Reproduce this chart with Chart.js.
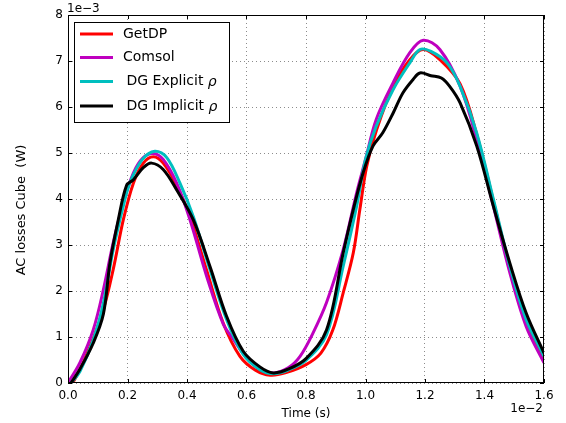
<!DOCTYPE html>
<html><head><meta charset="utf-8">
<script src="https://cdn.jsdelivr.net/npm/chart.js@4/dist/chart.umd.min.js"></script>
<style>html,body{margin:0;padding:0;background:#fff}#wrap{width:566px;height:423px}</style>
</head><body><div id="wrap"><canvas id="c" width="566" height="423"></canvas></div>
<script>
// Time in units of 1e-2 s, losses in units of 1e-3 W
const seriesNames = ['GetDP', 'Comsol', 'DG Explicit', 'DG Implicit'];
const getdpT = [0.0,0.02,0.074,0.119,0.152,0.186,0.22,0.253,0.287,0.32,0.365,0.41,0.466,0.522,0.578,0.63,0.68,0.73,0.8,0.85,0.89,0.925,0.959,0.981,1.004,1.037,1.093,1.149,1.194,1.25,1.318,1.374,1.43,1.485,1.54,1.6];
const getdpV = [0,0.05,0.8,1.6,2.47,3.55,4.35,4.78,4.92,4.78,4.3,3.62,2.45,1.3,0.58,0.28,0.17,0.22,0.40,0.65,1.15,1.96,2.83,3.77,4.71,5.5,6.45,7.03,7.25,7.03,6.5,5.4,3.95,2.5,1.3,0.5];
const comsolT = [0.0,0.04,0.085,0.119,0.152,0.186,0.22,0.253,0.287,0.32,0.365,0.41,0.466,0.522,0.555,0.6,0.645,0.69,0.74,0.78,0.823,0.869,0.925,0.97,1.0,1.036,1.093,1.149,1.194,1.25,1.318,1.374,1.43,1.485,1.54,1.6];
const comsolV = [0,0.44,1.16,2.03,3.05,3.92,4.57,4.9,4.99,4.86,4.35,3.55,2.32,1.28,0.96,0.55,0.3,0.22,0.33,0.58,1.08,1.75,2.9,4.13,4.86,5.73,6.53,7.18,7.45,7.25,6.45,5.29,3.84,2.4,1.23,0.44];
const explicitT = [0.01,0.04,0.085,0.119,0.152,0.186,0.208,0.25,0.292,0.332,0.376,0.421,0.477,0.533,0.589,0.645,0.69,0.74,0.8,0.869,0.925,0.97,1.0,1.036,1.093,1.149,1.183,1.22,1.274,1.318,1.374,1.43,1.485,1.54,1.6];
const explicitV = [0,0.25,0.94,1.74,2.9,3.85,4.35,4.86,5.04,4.9,4.35,3.62,2.47,1.38,0.62,0.29,0.2,0.28,0.49,1.05,2.54,3.84,4.86,5.58,6.38,6.96,7.25,7.21,6.96,6.45,5.43,3.99,2.54,1.38,0.58];
const implicitT = [0.01,0.04,0.085,0.119,0.141,0.169,0.197,0.22,0.253,0.281,0.32,0.365,0.421,0.477,0.533,0.589,0.645,0.69,0.74,0.8,0.869,0.925,0.959,0.992,1.025,1.058,1.093,1.126,1.16,1.183,1.22,1.255,1.283,1.318,1.374,1.43,1.485,1.54,1.6];
const implicitV = [0,0.3,0.87,1.5,2.61,3.55,4.3,4.42,4.68,4.78,4.64,4.2,3.55,2.54,1.45,0.69,0.35,0.22,0.3,0.53,1.15,2.83,3.77,4.57,5.15,5.44,5.87,6.31,6.6,6.74,6.68,6.63,6.45,6.09,5.15,3.84,2.61,1.52,0.65];
const xTickValues = [0,0.2,0.4,0.6,0.8,1.0,1.2,1.4,1.6];
const yTickValues = [0,1,2,3,4,5,6,7,8];
const xTitle = 'Time (s)';
const yTitle = 'AC losses Cube  (W)';
const xExponent = '1e\u22122';
const yExponent = '1e\u22123';
const colors = ['#ff0000', '#bf00bf', '#00bfbf', '#000000'];

const pts = (t, v) => t.map((x, i) => ({x: x, y: v[i]}));
const seriesData = [pts(getdpT, getdpV), pts(comsolT, comsolV), pts(explicitT, explicitV), pts(implicitT, implicitV)];
const FONT = 'DejaVu Sans';

const decor = {
  id: 'decor',
  afterDraw(chart) {
    const ctx = chart.ctx, a = chart.chartArea, xs = chart.scales.x, ys = chart.scales.y;
    ctx.save();
    ctx.strokeStyle = '#000'; ctx.lineWidth = 1;
    ctx.strokeRect(a.left + 0.5, a.top + 0.5, a.right - a.left - 1, a.bottom - a.top - 1);
    ctx.beginPath();
    xTickValues.forEach(v => {
      const p = Math.round(xs.getPixelForValue(v)) + 0.5;
      ctx.moveTo(p, a.bottom); ctx.lineTo(p, a.bottom - 4);
      ctx.moveTo(p, a.top); ctx.lineTo(p, a.top + 4);
    });
    yTickValues.forEach(v => {
      const p = Math.round(ys.getPixelForValue(v)) + 0.5;
      ctx.moveTo(a.left, p); ctx.lineTo(a.left + 4, p);
      ctx.moveTo(a.right, p); ctx.lineTo(a.right - 4, p);
    });
    ctx.stroke();
    ctx.fillStyle = '#000';
    // y axis title
    ctx.save();
    ctx.translate(22, 210);
    ctx.rotate(-Math.PI / 2);
    ctx.font = '13px "' + FONT + '"';
    ctx.textAlign = 'center'; ctx.textBaseline = 'middle';
    ctx.fillText(yTitle, 0, 0);
    ctx.restore();
    // exponents
    ctx.font = '12px "' + FONT + '"';
    ctx.textBaseline = 'alphabetic';
    ctx.textAlign = 'left';
    ctx.fillText(yExponent, a.left - 1, a.top - 3);
    ctx.textAlign = 'right';
    ctx.fillText(xExponent, a.right - 1, 412);
    // legend
    const lx = 74.5, ly = 22.5, lw = 155, lh = 100;
    ctx.fillStyle = '#fff';
    ctx.fillRect(lx, ly, lw, lh);
    ctx.strokeStyle = '#000'; ctx.lineWidth = 1;
    ctx.strokeRect(lx, ly, lw, lh);
    const rows = [34, 57.5, 81.5, 106];
    seriesNames.forEach((name, i) => {
      const y = rows[i];
      ctx.strokeStyle = colors[i]; ctx.lineWidth = 3;
      ctx.beginPath(); ctx.moveTo(80, y); ctx.lineTo(113, y); ctx.stroke();
      ctx.fillStyle = '#000';
      ctx.textAlign = 'left'; ctx.textBaseline = 'middle';
      ctx.font = '14px "' + FONT + '"';
      if (i < 2) {
        ctx.fillText(name, 123, y);
      } else {
        const s = ' ' + name + ' ';
        ctx.fillText(s, 122, y);
        const w = ctx.measureText(s).width;
        ctx.font = 'italic 14px "' + FONT + '"';
        ctx.fillText('\u03c1', 122 + w, y + 1);
      }
    });
    ctx.restore();
  }
};

new Chart(document.getElementById('c'), {
  type: 'scatter',
  data: {
    datasets: seriesData.map((d, i) => ({
      label: seriesNames[i],
      data: d,
      showLine: true,
      borderColor: colors[i],
      backgroundColor: colors[i],
      borderWidth: 3,
      pointRadius: 0,
      tension: 0.35,
      order: 4 - i
    }))
  },
  options: {
    responsive: false,
    animation: false,
    devicePixelRatio: 1,
    layout: {padding: {left: 0, right: 22, top: 15, bottom: 0}},
    plugins: {legend: {display: false}, tooltip: {enabled: false}},
    scales: {
      x: {
        type: 'linear', min: 0, max: 1.6,
        afterBuildTicks: s => { s.ticks = xTickValues.map(v => ({value: v})); },
        afterFit: s => { s.height = 40; },
        ticks: {callback: v => v.toFixed(1), color: '#000', padding: 6, maxRotation: 0, font: {family: FONT, size: 12}},
        grid: {color: '#8c8c8c', lineWidth: 1, drawTicks: false},
        border: {display: false, dash: [1, 3]},
        title: {display: true, text: xTitle, color: '#000', font: {family: FONT, size: 12}, padding: {top: 0, bottom: 2}}
      },
      y: {
        type: 'linear', min: 0, max: 8,
        afterBuildTicks: s => { s.ticks = yTickValues.map(v => ({value: v})); },
        afterFit: s => { s.width = 68; },
        ticks: {callback: v => String(v), color: '#000', padding: 5, font: {family: FONT, size: 12}},
        grid: {color: '#8c8c8c', lineWidth: 1, drawTicks: false},
        border: {display: false, dash: [1, 3]},
        title: {display: false, text: yTitle}
      }
    }
  },
  plugins: [decor]
});
</script></body></html>
